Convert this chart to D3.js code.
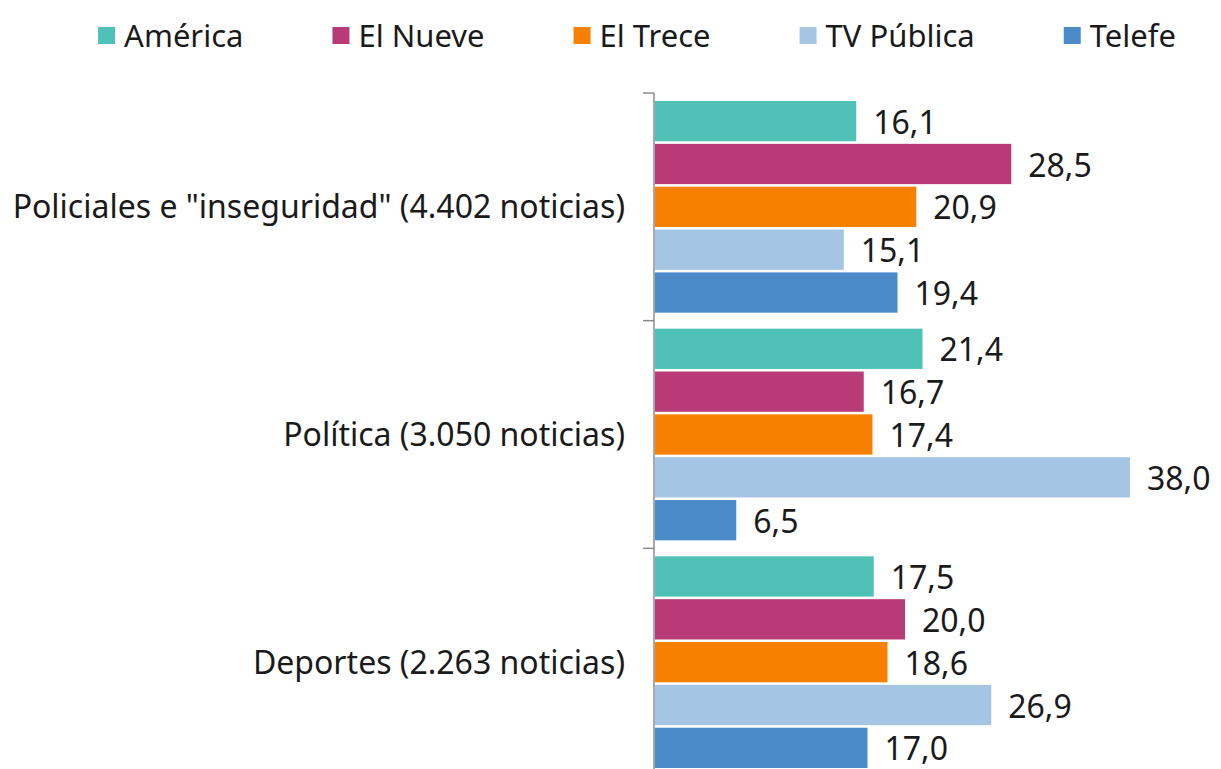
<!DOCTYPE html>
<html>
<head>
<meta charset="utf-8">
<script src="https://cdn.jsdelivr.net/npm/d3@7"></script>
<style>
  body { margin: 0; background: #fff; }
  text { font-family: "Noto Sans", "Open Sans", sans-serif; fill: #1a1a1a; }
</style>
</head>
<body>
<svg width="1221" height="769"></svg>
<script>
var categories = ['Policiales e "inseguridad" (4.402 noticias)', "Política (3.050 noticias)", "Deportes (2.263 noticias)"];
var channels = ["América", "El Nueve", "El Trece", "TV Pública", "Telefe"];
var colors = ["#4fc1b7", "#b83b78", "#f78000", "#a5c5e5", "#4a8ac8"];
var values = [
  [16.1, 28.5, 20.9, 15.1, 19.4],
  [21.4, 16.7, 17.4, 38.0, 6.5],
  [17.5, 20.0, 18.6, 26.9, 17.0]
];

var svg = d3.select("svg");
var fmt = function (v) { return d3.format(".1f")(v).replace(".", ","); };

var x = d3.scaleLinear().domain([0, 38]).range([655, 1130]);
var y0 = d3.scaleBand().domain(categories).range([93, 776]);
var y1 = d3.scaleBand().domain(channels).range([8, y0.bandwidth() - 8]).paddingInner(0.06);

// bars
var groups = svg.selectAll("g.cat")
    .data(categories)
  .enter().append("g")
    .attr("class", "cat")
    .attr("transform", function (d) { return "translate(0," + y0(d) + ")"; });

groups.selectAll("rect")
    .data(function (d, i) { return values[i].map(function (v, j) { return { v: v, k: channels[j], c: colors[j] }; }); })
  .enter().append("rect")
    .attr("x", x(0))
    .attr("y", function (d) { return y1(d.k); })
    .attr("width", function (d) { return x(d.v) - x(0); })
    .attr("height", y1.bandwidth())
    .attr("fill", function (d) { return d.c; });

groups.selectAll("text.val")
    .data(function (d, i) { return values[i]; })
  .enter().append("text")
    .attr("class", "val")
    .attr("x", function (d) { return x(d) + 17; })
    .attr("y", function (d, j) { return y1(channels[j]) + y1.bandwidth() / 2 + 1; })
    .attr("dy", "0.36em")
    .style("font-size", "32px")
    .text(fmt);

// axis
var axis = svg.append("g")
    .attr("transform", "translate(" + (x(0) - 1) + ",0)");
axis.append("line").attr("y1", 93).attr("y2", 769).attr("stroke", "#8c8c8c").attr("stroke-width", 1.5);
axis.selectAll("line.tk")
    .data(categories)
  .enter().append("line")
    .attr("class", "tk")
    .attr("x1", -11).attr("x2", 0)
    .attr("y1", function (d) { return y0(d); })
    .attr("y2", function (d) { return y0(d); })
    .attr("stroke", "#8c8c8c").attr("stroke-width", 1.5);

svg.selectAll("text.cat")
    .data(categories)
  .enter().append("text")
    .attr("class", "cat")
    .attr("x", 625)
    .attr("y", function (d) { return y0(d) + y0.bandwidth() / 2; })
    .attr("dy", "0.36em")
    .attr("text-anchor", "end")
    .style("font-size", "32px")
    .text(function (d) { return d; });

// legend
var legend = svg.append("g");
var items = legend.selectAll("g")
    .data(channels)
  .enter().append("g");
items.append("rect")
    .attr("width", 17).attr("height", 17).attr("y", 27)
    .attr("fill", function (d, i) { return colors[i]; });
items.append("text")
    .attr("x", 26).attr("y", 36).attr("dy", "0.36em")
    .style("font-size", "31px")
    .text(function (d) { return d; });
var pos = 0;
items.each(function () {
  var g = d3.select(this);
  g.attr("transform", "translate(" + pos + ",0)");
  pos += 26 + g.select("text").node().getComputedTextLength() + 89;
});
var total = pos - 89;
legend.attr("transform", "translate(" + (637 - total / 2) + ",0)");
</script>
</body>
</html>
